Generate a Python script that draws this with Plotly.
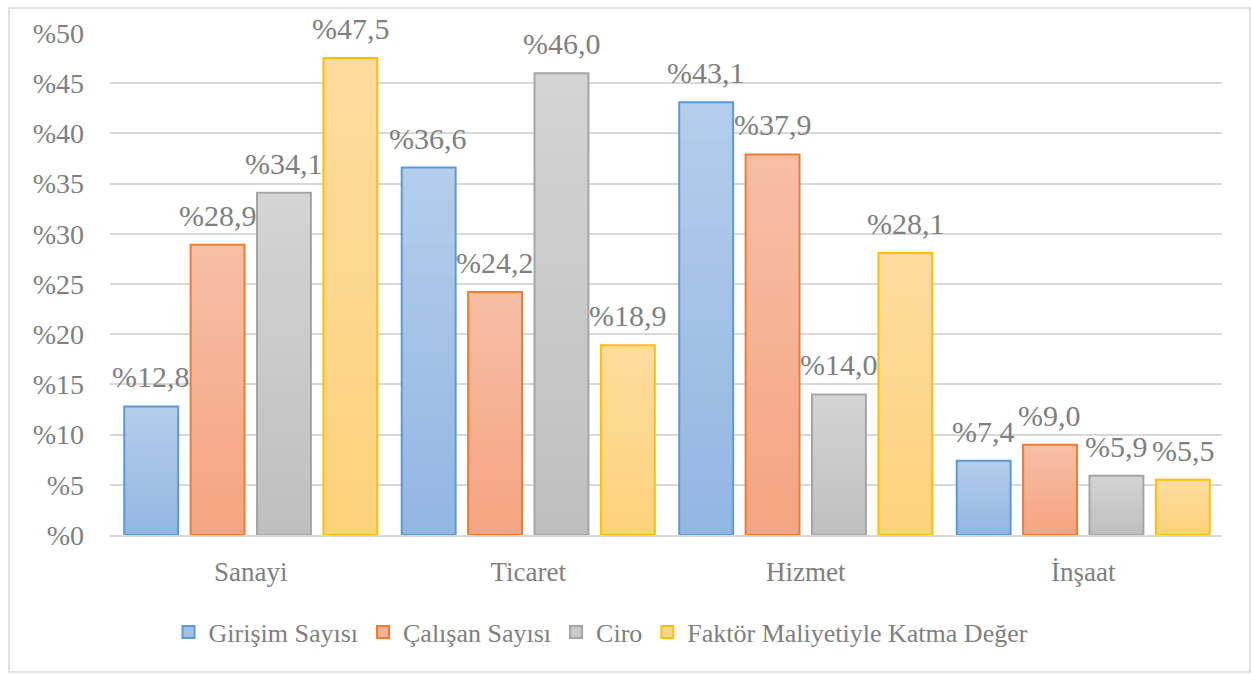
import plotly.graph_objects as go

categories = ["Sanayi", "Ticaret", "Hizmet", "İnşaat"]
series_names = ["Girişim Sayısı", "Çalışan Sayısı", "Ciro", "Faktör Maliyetiyle Katma Değer"]
girisim = [12.8, 36.6, 43.1, 7.4]
calisan = [28.9, 24.2, 37.9, 9.0]
ciro = [34.1, 46.0, 14.0, 5.9]
faktor = [47.5, 18.9, 28.1, 5.5]
series_values = [girisim, calisan, ciro, faktor]
y_ticks = [0, 5, 10, 15, 20, 25, 30, 35, 40, 45, 50]

# styles: (top color, bottom color, border)
styles = [
    ((180, 205, 235), (146, 182, 226), "#5B9BD5"),
    ((247, 190, 166), (245, 164, 128), "#ED7D31"),
    ((212, 212, 212), (191, 191, 191), "#A5A5A5"),
    ((254, 220, 158), (254, 210, 124), "#FFC000"),
]
FONT = "Liberation Serif, Times New Roman, serif"
TXT = "#7F7F7F"
N = 24

L, R, T, B = 110, 30, 33, 140
W, H = 1252, 675
pw, ph = W - L - R, H - T - B
BARGAP, GROUPGAP = 0.043, 0.188
cat_px = pw / len(categories)
slot_px = cat_px * (1 - BARGAP) / len(series_names)


def mix(a, b, t):
    return "rgb(%d,%d,%d)" % tuple(round(a[i] + (b[i] - a[i]) * t) for i in range(3))


fig = go.Figure()
annotations = []
for s, (name, vals) in enumerate(zip(series_names, series_values)):
    top, bot, border = styles[s]
    # legend-only proxy
    fig.add_trace(go.Bar(
        x=categories, y=[None] * len(categories), name=name, offsetgroup=str(s),
        marker=dict(color=mix(bot, top, 0.5), line=dict(color=border, width=2)),
        showlegend=True, hoverinfo="skip",
    ))
    for k in range(N):
        t = (k + 0.5) / N
        fig.add_trace(go.Bar(
            x=categories,
            base=[v * k / N for v in vals],
            y=[v - v * k / N for v in vals],
            offsetgroup=str(s), showlegend=False, hoverinfo="skip",
            marker=dict(color=mix(bot, top, t), line=dict(width=0)),
        ))
    fig.add_trace(go.Bar(
        x=categories, y=vals, base=[0] * len(vals), offsetgroup=str(s), showlegend=False,
        marker=dict(color="rgba(0,0,0,0)", line=dict(color=border, width=2)),
        hoverinfo="skip",
    ))
    xs = (s - (len(series_names) - 1) / 2) * slot_px
    for c, v in zip(categories, vals):
        annotations.append(dict(
            x=c, y=v, xref="x", yref="y", xshift=xs, yshift=11,
            text=("%" + f"{v:.1f}").replace(".", ","), showarrow=False,
            xanchor="center", yanchor="bottom",
            font=dict(family=FONT, size=30, color=TXT),
        ))

fig.update_layout(
    width=W, height=H,
    margin=dict(l=L, r=R, t=T, b=B),
    barmode="group", bargap=BARGAP, bargroupgap=GROUPGAP,
    plot_bgcolor="white", paper_bgcolor="white",
    font=dict(family=FONT, color=TXT, size=27),
    xaxis=dict(showgrid=False, showline=True, linecolor="#D9D9D9", linewidth=1.5,
               ticks="", ticklabelstandoff=12, tickfont=dict(family=FONT, size=27, color=TXT)),
    yaxis=dict(range=[0, 50], tickvals=y_ticks, ticktext=["%" + str(v) for v in y_ticks],
               showgrid=True, gridcolor="#D9D9D9", gridwidth=1.5, zeroline=False,
               showline=False, ticks="", ticklabelstandoff=25,
               tickfont=dict(family=FONT, size=28, color=TXT)),
    legend=dict(orientation="h", x=(601 - L) / pw, xanchor="center",
                y=(H - B - 632) / ph, yanchor="middle",
                font=dict(family=FONT, size=26, color=TXT), itemwidth=30, tracegroupgap=0),
    showlegend=True,
    annotations=annotations,
    shapes=[dict(type="rect", xref="paper", yref="paper",
                 x0=(9 - L) / pw, x1=(1250 - L) / pw,
                 y0=(H - B - 672) / ph, y1=(H - B - 8) / ph,
                 line=dict(color="#D9D9D9", width=1.5), fillcolor="rgba(0,0,0,0)",
                 layer="below")],
)

fig.write_html("out.html", config={"displayModeBar": False},
               post_script="document.body.style.margin='0';document.body.style.overflow='hidden';")
